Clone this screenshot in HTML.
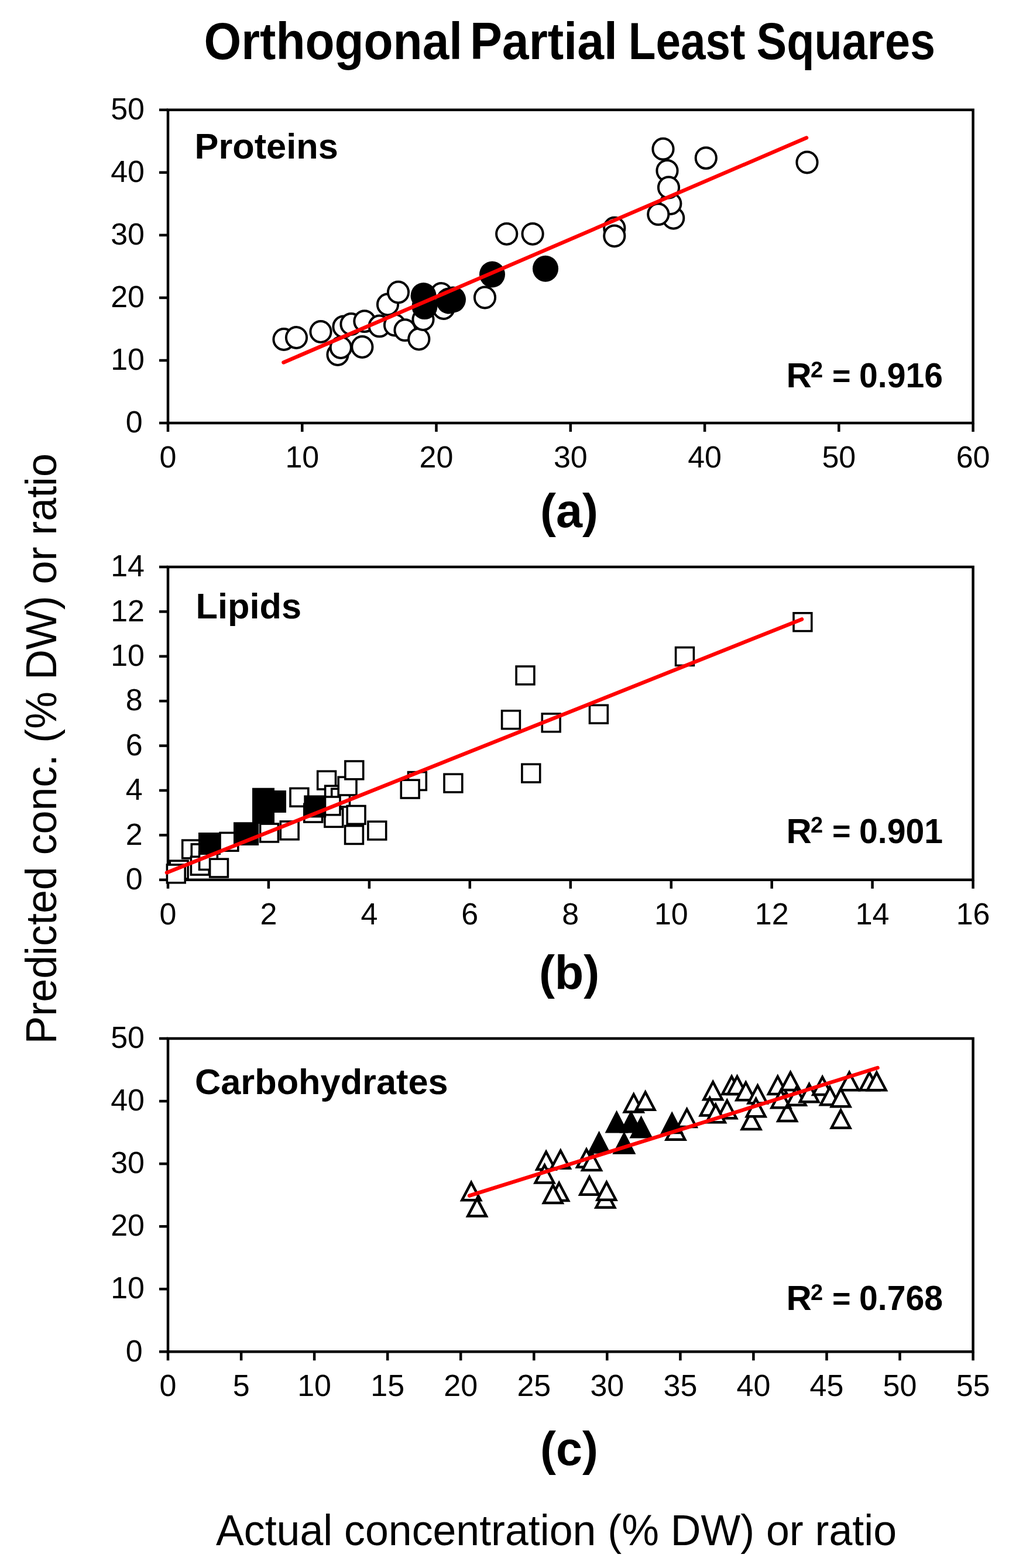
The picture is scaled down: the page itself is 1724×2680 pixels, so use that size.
<!DOCTYPE html><html><head><meta charset="utf-8"><title>Orthogonal Partial Least Squares</title>
<style>html,body{margin:0;padding:0;background:#fff;}svg{display:block;}text{font-family:"Liberation Sans",Arial,sans-serif;fill:#000;}</style></head><body>
<svg width="1724" height="2680" viewBox="0 0 1724 2680">
<rect width="1724" height="2680" fill="#fff"/>
<text y="101" font-size="89" font-weight="bold"><tspan x="348.5" textLength="441.5" lengthAdjust="spacingAndGlyphs">Orthogonal</tspan> <tspan x="802.9" textLength="252.0" lengthAdjust="spacingAndGlyphs">Partial</tspan> <tspan x="1073.7" textLength="199.7" lengthAdjust="spacingAndGlyphs">Least</tspan> <tspan x="1292.5" textLength="305.5" lengthAdjust="spacingAndGlyphs">Squares</tspan></text>
<rect x="287.0" y="187.8" width="1375.6" height="535.2" fill="none" stroke="#000" stroke-width="4.5"/>
<line x1="272.0" y1="723.0" x2="287.0" y2="723.0" stroke="#000" stroke-width="4.5"/>
<text x="243.6" y="739.2" font-size="52" text-anchor="end">0</text>
<line x1="272.0" y1="616.0" x2="287.0" y2="616.0" stroke="#000" stroke-width="4.5"/>
<text x="247.0" y="632.2" font-size="52" text-anchor="end">10</text>
<line x1="272.0" y1="508.9" x2="287.0" y2="508.9" stroke="#000" stroke-width="4.5"/>
<text x="247.0" y="525.1" font-size="52" text-anchor="end">20</text>
<line x1="272.0" y1="401.9" x2="287.0" y2="401.9" stroke="#000" stroke-width="4.5"/>
<text x="247.0" y="418.1" font-size="52" text-anchor="end">30</text>
<line x1="272.0" y1="294.8" x2="287.0" y2="294.8" stroke="#000" stroke-width="4.5"/>
<text x="247.0" y="311.0" font-size="52" text-anchor="end">40</text>
<line x1="272.0" y1="187.8" x2="287.0" y2="187.8" stroke="#000" stroke-width="4.5"/>
<text x="247.0" y="204.0" font-size="52" text-anchor="end">50</text>
<line x1="287.0" y1="723.0" x2="287.0" y2="738.0" stroke="#000" stroke-width="4.5"/>
<text x="287.0" y="798.8" font-size="52" text-anchor="middle">0</text>
<line x1="516.3" y1="723.0" x2="516.3" y2="738.0" stroke="#000" stroke-width="4.5"/>
<text x="516.3" y="798.8" font-size="52" text-anchor="middle">10</text>
<line x1="745.5" y1="723.0" x2="745.5" y2="738.0" stroke="#000" stroke-width="4.5"/>
<text x="745.5" y="798.8" font-size="52" text-anchor="middle">20</text>
<line x1="974.8" y1="723.0" x2="974.8" y2="738.0" stroke="#000" stroke-width="4.5"/>
<text x="974.8" y="798.8" font-size="52" text-anchor="middle">30</text>
<line x1="1204.1" y1="723.0" x2="1204.1" y2="738.0" stroke="#000" stroke-width="4.5"/>
<text x="1204.1" y="798.8" font-size="52" text-anchor="middle">40</text>
<line x1="1433.3" y1="723.0" x2="1433.3" y2="738.0" stroke="#000" stroke-width="4.5"/>
<text x="1433.3" y="798.8" font-size="52" text-anchor="middle">50</text>
<line x1="1662.6" y1="723.0" x2="1662.6" y2="738.0" stroke="#000" stroke-width="4.5"/>
<text x="1662.6" y="798.8" font-size="52" text-anchor="middle">60</text>
<rect x="287.0" y="969.0" width="1375.6" height="534.8" fill="none" stroke="#000" stroke-width="4.5"/>
<line x1="272.0" y1="1503.8" x2="287.0" y2="1503.8" stroke="#000" stroke-width="4.5"/>
<text x="243.6" y="1520.0" font-size="52" text-anchor="end">0</text>
<line x1="272.0" y1="1427.4" x2="287.0" y2="1427.4" stroke="#000" stroke-width="4.5"/>
<text x="243.6" y="1443.6" font-size="52" text-anchor="end">2</text>
<line x1="272.0" y1="1351.0" x2="287.0" y2="1351.0" stroke="#000" stroke-width="4.5"/>
<text x="243.6" y="1367.2" font-size="52" text-anchor="end">4</text>
<line x1="272.0" y1="1274.6" x2="287.0" y2="1274.6" stroke="#000" stroke-width="4.5"/>
<text x="243.6" y="1290.8" font-size="52" text-anchor="end">6</text>
<line x1="272.0" y1="1198.2" x2="287.0" y2="1198.2" stroke="#000" stroke-width="4.5"/>
<text x="243.6" y="1214.4" font-size="52" text-anchor="end">8</text>
<line x1="272.0" y1="1121.8" x2="287.0" y2="1121.8" stroke="#000" stroke-width="4.5"/>
<text x="247.0" y="1138.0" font-size="52" text-anchor="end">10</text>
<line x1="272.0" y1="1045.4" x2="287.0" y2="1045.4" stroke="#000" stroke-width="4.5"/>
<text x="247.0" y="1061.6" font-size="52" text-anchor="end">12</text>
<line x1="272.0" y1="969.0" x2="287.0" y2="969.0" stroke="#000" stroke-width="4.5"/>
<text x="247.0" y="985.2" font-size="52" text-anchor="end">14</text>
<line x1="287.0" y1="1503.8" x2="287.0" y2="1518.8" stroke="#000" stroke-width="4.5"/>
<text x="287.0" y="1579.6" font-size="52" text-anchor="middle">0</text>
<line x1="458.9" y1="1503.8" x2="458.9" y2="1518.8" stroke="#000" stroke-width="4.5"/>
<text x="458.9" y="1579.6" font-size="52" text-anchor="middle">2</text>
<line x1="630.9" y1="1503.8" x2="630.9" y2="1518.8" stroke="#000" stroke-width="4.5"/>
<text x="630.9" y="1579.6" font-size="52" text-anchor="middle">4</text>
<line x1="802.8" y1="1503.8" x2="802.8" y2="1518.8" stroke="#000" stroke-width="4.5"/>
<text x="802.8" y="1579.6" font-size="52" text-anchor="middle">6</text>
<line x1="974.8" y1="1503.8" x2="974.8" y2="1518.8" stroke="#000" stroke-width="4.5"/>
<text x="974.8" y="1579.6" font-size="52" text-anchor="middle">8</text>
<line x1="1146.8" y1="1503.8" x2="1146.8" y2="1518.8" stroke="#000" stroke-width="4.5"/>
<text x="1146.8" y="1579.6" font-size="52" text-anchor="middle">10</text>
<line x1="1318.7" y1="1503.8" x2="1318.7" y2="1518.8" stroke="#000" stroke-width="4.5"/>
<text x="1318.7" y="1579.6" font-size="52" text-anchor="middle">12</text>
<line x1="1490.6" y1="1503.8" x2="1490.6" y2="1518.8" stroke="#000" stroke-width="4.5"/>
<text x="1490.6" y="1579.6" font-size="52" text-anchor="middle">14</text>
<line x1="1662.6" y1="1503.8" x2="1662.6" y2="1518.8" stroke="#000" stroke-width="4.5"/>
<text x="1662.6" y="1579.6" font-size="52" text-anchor="middle">16</text>
<rect x="287.0" y="1775.0" width="1375.6" height="535.3" fill="none" stroke="#000" stroke-width="4.5"/>
<line x1="272.0" y1="2310.3" x2="287.0" y2="2310.3" stroke="#000" stroke-width="4.5"/>
<text x="243.6" y="2326.5" font-size="52" text-anchor="end">0</text>
<line x1="272.0" y1="2203.2" x2="287.0" y2="2203.2" stroke="#000" stroke-width="4.5"/>
<text x="247.0" y="2219.4" font-size="52" text-anchor="end">10</text>
<line x1="272.0" y1="2096.2" x2="287.0" y2="2096.2" stroke="#000" stroke-width="4.5"/>
<text x="247.0" y="2112.4" font-size="52" text-anchor="end">20</text>
<line x1="272.0" y1="1989.1" x2="287.0" y2="1989.1" stroke="#000" stroke-width="4.5"/>
<text x="247.0" y="2005.3" font-size="52" text-anchor="end">30</text>
<line x1="272.0" y1="1882.1" x2="287.0" y2="1882.1" stroke="#000" stroke-width="4.5"/>
<text x="247.0" y="1898.3" font-size="52" text-anchor="end">40</text>
<line x1="272.0" y1="1775.0" x2="287.0" y2="1775.0" stroke="#000" stroke-width="4.5"/>
<text x="247.0" y="1791.2" font-size="52" text-anchor="end">50</text>
<line x1="287.0" y1="2310.3" x2="287.0" y2="2325.3" stroke="#000" stroke-width="4.5"/>
<text x="287.0" y="2386.1" font-size="52" text-anchor="middle">0</text>
<line x1="412.1" y1="2310.3" x2="412.1" y2="2325.3" stroke="#000" stroke-width="4.5"/>
<text x="412.1" y="2386.1" font-size="52" text-anchor="middle">5</text>
<line x1="537.1" y1="2310.3" x2="537.1" y2="2325.3" stroke="#000" stroke-width="4.5"/>
<text x="537.1" y="2386.1" font-size="52" text-anchor="middle">10</text>
<line x1="662.2" y1="2310.3" x2="662.2" y2="2325.3" stroke="#000" stroke-width="4.5"/>
<text x="662.2" y="2386.1" font-size="52" text-anchor="middle">15</text>
<line x1="787.2" y1="2310.3" x2="787.2" y2="2325.3" stroke="#000" stroke-width="4.5"/>
<text x="787.2" y="2386.1" font-size="52" text-anchor="middle">20</text>
<line x1="912.3" y1="2310.3" x2="912.3" y2="2325.3" stroke="#000" stroke-width="4.5"/>
<text x="912.3" y="2386.1" font-size="52" text-anchor="middle">25</text>
<line x1="1037.3" y1="2310.3" x2="1037.3" y2="2325.3" stroke="#000" stroke-width="4.5"/>
<text x="1037.3" y="2386.1" font-size="52" text-anchor="middle">30</text>
<line x1="1162.4" y1="2310.3" x2="1162.4" y2="2325.3" stroke="#000" stroke-width="4.5"/>
<text x="1162.4" y="2386.1" font-size="52" text-anchor="middle">35</text>
<line x1="1287.4" y1="2310.3" x2="1287.4" y2="2325.3" stroke="#000" stroke-width="4.5"/>
<text x="1287.4" y="2386.1" font-size="52" text-anchor="middle">40</text>
<line x1="1412.5" y1="2310.3" x2="1412.5" y2="2325.3" stroke="#000" stroke-width="4.5"/>
<text x="1412.5" y="2386.1" font-size="52" text-anchor="middle">45</text>
<line x1="1537.5" y1="2310.3" x2="1537.5" y2="2325.3" stroke="#000" stroke-width="4.5"/>
<text x="1537.5" y="2386.1" font-size="52" text-anchor="middle">50</text>
<line x1="1662.6" y1="2310.3" x2="1662.6" y2="2325.3" stroke="#000" stroke-width="4.5"/>
<text x="1662.6" y="2386.1" font-size="52" text-anchor="middle">55</text>
<text x="332.5" y="271" font-size="61.3" font-weight="bold">Proteins</text>
<text x="334.5" y="1057" font-size="61.3" font-weight="bold">Lipids</text>
<text x="333" y="1870" font-size="61.3" font-weight="bold">Carbohydrates</text>
<text y="662" font-size="60" font-weight="bold"><tspan x="1343.5">R</tspan><tspan x="1385" y="644.8" font-size="38">2</tspan> <tspan x="1422" y="660.5" font-size="54">=</tspan> <tspan x="1468" y="662" textLength="143" lengthAdjust="spacingAndGlyphs">0.916</tspan></text>
<text y="1440.5" font-size="60" font-weight="bold"><tspan x="1343.5">R</tspan><tspan x="1385" y="1423.3" font-size="38">2</tspan> <tspan x="1422" y="1439.0" font-size="54">=</tspan> <tspan x="1468" y="1440.5" textLength="143" lengthAdjust="spacingAndGlyphs">0.901</tspan></text>
<text y="2239" font-size="60" font-weight="bold"><tspan x="1343.5">R</tspan><tspan x="1385" y="2221.8" font-size="38">2</tspan> <tspan x="1422" y="2237.5" font-size="54">=</tspan> <tspan x="1468" y="2239" textLength="143" lengthAdjust="spacingAndGlyphs">0.768</tspan></text>
<text x="972.6" y="900.6" font-size="81" font-weight="bold" text-anchor="middle">(a)</text>
<text x="972.6" y="1690" font-size="81" font-weight="bold" text-anchor="middle">(b)</text>
<text x="972.6" y="2504" font-size="81" font-weight="bold" text-anchor="middle">(c)</text>
<text x="369" y="2641" font-size="74" textLength="1163" lengthAdjust="spacingAndGlyphs">Actual concentration (% DW) or ratio</text>
<text transform="translate(95.8,1784.6) rotate(-90)" x="0" y="0" font-size="75" textLength="1009.6" lengthAdjust="spacingAndGlyphs">Predicted conc. (% DW) or ratio</text>
<ellipse cx="485" cy="580" rx="17.6" ry="17.9" fill="#fff" stroke="#000" stroke-width="4.0"/>
<ellipse cx="506.5" cy="577" rx="17.6" ry="17.9" fill="#fff" stroke="#000" stroke-width="4.0"/>
<ellipse cx="548" cy="567" rx="17.6" ry="17.9" fill="#fff" stroke="#000" stroke-width="4.0"/>
<ellipse cx="577" cy="606" rx="17.6" ry="17.9" fill="#fff" stroke="#000" stroke-width="4.0"/>
<ellipse cx="582.3" cy="594" rx="17.6" ry="17.9" fill="#fff" stroke="#000" stroke-width="4.0"/>
<ellipse cx="587" cy="558.4" rx="17.6" ry="17.9" fill="#fff" stroke="#000" stroke-width="4.0"/>
<ellipse cx="600" cy="554" rx="17.6" ry="17.9" fill="#fff" stroke="#000" stroke-width="4.0"/>
<ellipse cx="622.9" cy="549.1" rx="17.6" ry="17.9" fill="#fff" stroke="#000" stroke-width="4.0"/>
<ellipse cx="618.9" cy="593" rx="17.6" ry="17.9" fill="#fff" stroke="#000" stroke-width="4.0"/>
<ellipse cx="648.3" cy="557.4" rx="17.6" ry="17.9" fill="#fff" stroke="#000" stroke-width="4.0"/>
<ellipse cx="662.5" cy="520.5" rx="17.6" ry="17.9" fill="#fff" stroke="#000" stroke-width="4.0"/>
<ellipse cx="680.5" cy="499.5" rx="17.6" ry="17.9" fill="#fff" stroke="#000" stroke-width="4.0"/>
<ellipse cx="674.5" cy="555.5" rx="17.6" ry="17.9" fill="#fff" stroke="#000" stroke-width="4.0"/>
<ellipse cx="692" cy="564.2" rx="17.6" ry="17.9" fill="#fff" stroke="#000" stroke-width="4.0"/>
<ellipse cx="715.8" cy="579.5" rx="17.6" ry="17.9" fill="#fff" stroke="#000" stroke-width="4.0"/>
<ellipse cx="723" cy="546" rx="17.6" ry="17.9" fill="#fff" stroke="#000" stroke-width="4.0"/>
<ellipse cx="754" cy="502" rx="17.6" ry="17.9" fill="#fff" stroke="#000" stroke-width="4.0"/>
<ellipse cx="758" cy="527" rx="17.6" ry="17.9" fill="#fff" stroke="#000" stroke-width="4.0"/>
<ellipse cx="828.5" cy="508.5" rx="17.6" ry="17.9" fill="#fff" stroke="#000" stroke-width="4.0"/>
<ellipse cx="865.7" cy="399.8" rx="17.6" ry="17.9" fill="#fff" stroke="#000" stroke-width="4.0"/>
<ellipse cx="910.1" cy="399.8" rx="17.6" ry="17.9" fill="#fff" stroke="#000" stroke-width="4.0"/>
<ellipse cx="1049.8" cy="389.7" rx="17.6" ry="17.9" fill="#fff" stroke="#000" stroke-width="4.0"/>
<ellipse cx="1049.8" cy="403.3" rx="17.6" ry="17.9" fill="#fff" stroke="#000" stroke-width="4.0"/>
<ellipse cx="1133" cy="254.7" rx="17.6" ry="17.9" fill="#fff" stroke="#000" stroke-width="4.0"/>
<ellipse cx="1140" cy="291.8" rx="17.6" ry="17.9" fill="#fff" stroke="#000" stroke-width="4.0"/>
<ellipse cx="1150.7" cy="372.8" rx="17.6" ry="17.9" fill="#fff" stroke="#000" stroke-width="4.0"/>
<ellipse cx="1145.8" cy="348" rx="17.6" ry="17.9" fill="#fff" stroke="#000" stroke-width="4.0"/>
<ellipse cx="1142.5" cy="320.5" rx="17.6" ry="17.9" fill="#fff" stroke="#000" stroke-width="4.0"/>
<ellipse cx="1124.8" cy="366.2" rx="17.6" ry="17.9" fill="#fff" stroke="#000" stroke-width="4.0"/>
<ellipse cx="1206.3" cy="270.1" rx="17.6" ry="17.9" fill="#fff" stroke="#000" stroke-width="4.0"/>
<ellipse cx="1379" cy="277.5" rx="17.6" ry="17.9" fill="#fff" stroke="#000" stroke-width="4.0"/>
<ellipse cx="723.6" cy="505.5" rx="22" ry="22.5" fill="#000"/>
<ellipse cx="725.5" cy="523.6" rx="22" ry="22.5" fill="#000"/>
<ellipse cx="767" cy="514" rx="22" ry="22.5" fill="#000"/>
<ellipse cx="774" cy="512" rx="22" ry="22.5" fill="#000"/>
<ellipse cx="841" cy="469" rx="22" ry="22.5" fill="#000"/>
<ellipse cx="932" cy="459.2" rx="22" ry="22.5" fill="#000"/>
<line x1="484.5" y1="619.5" x2="1378" y2="235.5" stroke="#f00" stroke-width="6.5" stroke-linecap="round"/>
<rect x="290.3" y="1471.2" width="30.8" height="30.8" fill="#fff" stroke="#000" stroke-width="3.6"/>
<rect x="285.4" y="1478.0" width="30.8" height="30.8" fill="#fff" stroke="#000" stroke-width="3.6"/>
<rect x="311.7" y="1436.1" width="30.8" height="30.8" fill="#fff" stroke="#000" stroke-width="3.6"/>
<rect x="327.3" y="1442.9" width="30.8" height="30.8" fill="#fff" stroke="#000" stroke-width="3.6"/>
<rect x="326.4" y="1464.3" width="30.8" height="30.8" fill="#fff" stroke="#000" stroke-width="3.6"/>
<rect x="340.6" y="1455.6" width="30.8" height="30.8" fill="#fff" stroke="#000" stroke-width="3.6"/>
<rect x="358.6" y="1468.2" width="30.8" height="30.8" fill="#fff" stroke="#000" stroke-width="3.6"/>
<rect x="376.0" y="1423.4" width="30.8" height="30.8" fill="#fff" stroke="#000" stroke-width="3.6"/>
<rect x="444.6" y="1408.1" width="30.8" height="30.8" fill="#fff" stroke="#000" stroke-width="3.6"/>
<rect x="479.3" y="1404.0" width="30.8" height="30.8" fill="#fff" stroke="#000" stroke-width="3.6"/>
<rect x="496.0" y="1347.4" width="30.8" height="30.8" fill="#fff" stroke="#000" stroke-width="3.6"/>
<rect x="519.8" y="1374.3" width="30.8" height="30.8" fill="#fff" stroke="#000" stroke-width="3.6"/>
<rect x="542.7" y="1318.2" width="30.8" height="30.8" fill="#fff" stroke="#000" stroke-width="3.6"/>
<rect x="554.9" y="1382.5" width="30.8" height="30.8" fill="#fff" stroke="#000" stroke-width="3.6"/>
<rect x="555.6" y="1343.2" width="30.8" height="30.8" fill="#fff" stroke="#000" stroke-width="3.6"/>
<rect x="566.7" y="1348.2" width="30.8" height="30.8" fill="#fff" stroke="#000" stroke-width="3.6"/>
<rect x="578.2" y="1328.2" width="30.8" height="30.8" fill="#fff" stroke="#000" stroke-width="3.6"/>
<rect x="589.9" y="1301.0" width="30.8" height="30.8" fill="#fff" stroke="#000" stroke-width="3.6"/>
<rect x="593.2" y="1377.5" width="30.8" height="30.8" fill="#fff" stroke="#000" stroke-width="3.6"/>
<rect x="589.6" y="1411.6" width="30.8" height="30.8" fill="#fff" stroke="#000" stroke-width="3.6"/>
<rect x="628.9" y="1404.2" width="30.8" height="30.8" fill="#fff" stroke="#000" stroke-width="3.6"/>
<rect x="697.5" y="1319.6" width="30.8" height="30.8" fill="#fff" stroke="#000" stroke-width="3.6"/>
<rect x="685.3" y="1333.2" width="30.8" height="30.8" fill="#fff" stroke="#000" stroke-width="3.6"/>
<rect x="759.0" y="1323.2" width="30.8" height="30.8" fill="#fff" stroke="#000" stroke-width="3.6"/>
<rect x="857.6" y="1214.8" width="30.8" height="30.8" fill="#fff" stroke="#000" stroke-width="3.6"/>
<rect x="882.1" y="1139.0" width="30.8" height="30.8" fill="#fff" stroke="#000" stroke-width="3.6"/>
<rect x="891.9" y="1306.2" width="30.8" height="30.8" fill="#fff" stroke="#000" stroke-width="3.6"/>
<rect x="926.3" y="1219.9" width="30.8" height="30.8" fill="#fff" stroke="#000" stroke-width="3.6"/>
<rect x="1007.5" y="1205.3" width="30.8" height="30.8" fill="#fff" stroke="#000" stroke-width="3.6"/>
<rect x="1154.6" y="1106.6" width="30.8" height="30.8" fill="#fff" stroke="#000" stroke-width="3.6"/>
<rect x="1356.0" y="1047.8" width="30.8" height="30.8" fill="#fff" stroke="#000" stroke-width="3.6"/>
<rect x="550.2" y="1362.0" width="30.8" height="30.8" fill="#fff" stroke="#000" stroke-width="3.6"/>
<rect x="339.0" y="1423.0" width="38" height="38" fill="#000"/>
<rect x="399.0" y="1405.3" width="38" height="38" fill="#000"/>
<rect x="404.0" y="1407.0" width="38" height="38" fill="#000"/>
<rect x="431.0" y="1346.7" width="38" height="38" fill="#000"/>
<rect x="431.0" y="1370.0" width="38" height="38" fill="#000"/>
<rect x="451.0" y="1351.0" width="38" height="38" fill="#000"/>
<rect x="519.3" y="1359.4" width="38" height="38" fill="#000"/>
<line x1="285" y1="1491.5" x2="1370" y2="1058.4" stroke="#f00" stroke-width="6.5" stroke-linecap="round"/>
<path d="M805.2,2021.2 L821.0,2051.2 L789.4,2051.2 Z" fill="#fff" stroke="#000" stroke-width="4.5" stroke-linejoin="miter" stroke-miterlimit="10"/>
<path d="M815.1,2048.6 L830.9,2078.6 L799.3,2078.6 Z" fill="#fff" stroke="#000" stroke-width="4.5" stroke-linejoin="miter" stroke-miterlimit="10"/>
<path d="M933.1,1968.8 L948.9,1998.8 L917.3,1998.8 Z" fill="#fff" stroke="#000" stroke-width="4.5" stroke-linejoin="miter" stroke-miterlimit="10"/>
<path d="M957.8,1966.8 L973.6,1996.8 L942.0,1996.8 Z" fill="#fff" stroke="#000" stroke-width="4.5" stroke-linejoin="miter" stroke-miterlimit="10"/>
<path d="M930.5,1991.5 L946.3,2021.5 L914.7,2021.5 Z" fill="#fff" stroke="#000" stroke-width="4.5" stroke-linejoin="miter" stroke-miterlimit="10"/>
<path d="M955.2,2022.1 L971.0,2052.1 L939.4,2052.1 Z" fill="#fff" stroke="#000" stroke-width="4.5" stroke-linejoin="miter" stroke-miterlimit="10"/>
<path d="M944.8,2025.9 L960.6,2055.9 L929.0,2055.9 Z" fill="#fff" stroke="#000" stroke-width="4.5" stroke-linejoin="miter" stroke-miterlimit="10"/>
<path d="M1002.0,1964.8 L1017.8,1994.8 L986.2,1994.8 Z" fill="#fff" stroke="#000" stroke-width="4.5" stroke-linejoin="miter" stroke-miterlimit="10"/>
<path d="M1011.0,1970.0 L1026.8,2000.0 L995.2,2000.0 Z" fill="#fff" stroke="#000" stroke-width="4.5" stroke-linejoin="miter" stroke-miterlimit="10"/>
<path d="M1007.1,2011.7 L1022.9,2041.7 L991.3,2041.7 Z" fill="#fff" stroke="#000" stroke-width="4.5" stroke-linejoin="miter" stroke-miterlimit="10"/>
<path d="M1034.4,2033.8 L1050.2,2063.8 L1018.6,2063.8 Z" fill="#fff" stroke="#000" stroke-width="4.5" stroke-linejoin="miter" stroke-miterlimit="10"/>
<path d="M1036.4,2020.8 L1052.2,2050.8 L1020.6,2050.8 Z" fill="#fff" stroke="#000" stroke-width="4.5" stroke-linejoin="miter" stroke-miterlimit="10"/>
<path d="M1082.7,1870.5 L1098.5,1900.5 L1066.9,1900.5 Z" fill="#fff" stroke="#000" stroke-width="4.5" stroke-linejoin="miter" stroke-miterlimit="10"/>
<path d="M1102.7,1866.8 L1118.5,1896.8 L1086.9,1896.8 Z" fill="#fff" stroke="#000" stroke-width="4.5" stroke-linejoin="miter" stroke-miterlimit="10"/>
<path d="M1173.6,1896.0 L1189.4,1926.0 L1157.8,1926.0 Z" fill="#fff" stroke="#000" stroke-width="4.5" stroke-linejoin="miter" stroke-miterlimit="10"/>
<path d="M1154.5,1917.8 L1170.3,1947.8 L1138.7,1947.8 Z" fill="#fff" stroke="#000" stroke-width="4.5" stroke-linejoin="miter" stroke-miterlimit="10"/>
<path d="M1218.2,1849.3 L1234.0,1879.3 L1202.4,1879.3 Z" fill="#fff" stroke="#000" stroke-width="4.5" stroke-linejoin="miter" stroke-miterlimit="10"/>
<path d="M1250.1,1840.0 L1265.9,1870.0 L1234.3,1870.0 Z" fill="#fff" stroke="#000" stroke-width="4.5" stroke-linejoin="miter" stroke-miterlimit="10"/>
<path d="M1259.5,1840.0 L1275.3,1870.0 L1243.7,1870.0 Z" fill="#fff" stroke="#000" stroke-width="4.5" stroke-linejoin="miter" stroke-miterlimit="10"/>
<path d="M1274.3,1850.3 L1290.1,1880.3 L1258.5,1880.3 Z" fill="#fff" stroke="#000" stroke-width="4.5" stroke-linejoin="miter" stroke-miterlimit="10"/>
<path d="M1294.5,1855.5 L1310.3,1885.5 L1278.7,1885.5 Z" fill="#fff" stroke="#000" stroke-width="4.5" stroke-linejoin="miter" stroke-miterlimit="10"/>
<path d="M1212.7,1876.5 L1228.5,1906.5 L1196.9,1906.5 Z" fill="#fff" stroke="#000" stroke-width="4.5" stroke-linejoin="miter" stroke-miterlimit="10"/>
<path d="M1242.3,1881.2 L1258.1,1911.2 L1226.5,1911.2 Z" fill="#fff" stroke="#000" stroke-width="4.5" stroke-linejoin="miter" stroke-miterlimit="10"/>
<path d="M1222.9,1888.2 L1238.7,1918.2 L1207.1,1918.2 Z" fill="#fff" stroke="#000" stroke-width="4.5" stroke-linejoin="miter" stroke-miterlimit="10"/>
<path d="M1283.6,1900.0 L1299.4,1930.0 L1267.8,1930.0 Z" fill="#fff" stroke="#000" stroke-width="4.5" stroke-linejoin="miter" stroke-miterlimit="10"/>
<path d="M1291.7,1878.2 L1307.5,1908.2 L1275.9,1908.2 Z" fill="#fff" stroke="#000" stroke-width="4.5" stroke-linejoin="miter" stroke-miterlimit="10"/>
<path d="M1328.8,1840.0 L1344.6,1870.0 L1313.0,1870.0 Z" fill="#fff" stroke="#000" stroke-width="4.5" stroke-linejoin="miter" stroke-miterlimit="10"/>
<path d="M1350.6,1833.0 L1366.4,1863.0 L1334.8,1863.0 Z" fill="#fff" stroke="#000" stroke-width="4.5" stroke-linejoin="miter" stroke-miterlimit="10"/>
<path d="M1345.2,1886.0 L1361.0,1916.0 L1329.4,1916.0 Z" fill="#fff" stroke="#000" stroke-width="4.5" stroke-linejoin="miter" stroke-miterlimit="10"/>
<path d="M1334.3,1863.3 L1350.1,1893.3 L1318.5,1893.3 Z" fill="#fff" stroke="#000" stroke-width="4.5" stroke-linejoin="miter" stroke-miterlimit="10"/>
<path d="M1360.8,1858.7 L1376.6,1888.7 L1345.0,1888.7 Z" fill="#fff" stroke="#000" stroke-width="4.5" stroke-linejoin="miter" stroke-miterlimit="10"/>
<path d="M1382.6,1853.2 L1398.4,1883.2 L1366.8,1883.2 Z" fill="#fff" stroke="#000" stroke-width="4.5" stroke-linejoin="miter" stroke-miterlimit="10"/>
<path d="M1405.2,1841.0 L1421.0,1871.0 L1389.4,1871.0 Z" fill="#fff" stroke="#000" stroke-width="4.5" stroke-linejoin="miter" stroke-miterlimit="10"/>
<path d="M1418.0,1858.2 L1433.8,1888.2 L1402.2,1888.2 Z" fill="#fff" stroke="#000" stroke-width="4.5" stroke-linejoin="miter" stroke-miterlimit="10"/>
<path d="M1436.6,1861.2 L1452.4,1891.2 L1420.8,1891.2 Z" fill="#fff" stroke="#000" stroke-width="4.5" stroke-linejoin="miter" stroke-miterlimit="10"/>
<path d="M1436.6,1897.7 L1452.4,1927.7 L1420.8,1927.7 Z" fill="#fff" stroke="#000" stroke-width="4.5" stroke-linejoin="miter" stroke-miterlimit="10"/>
<path d="M1451.2,1833.2 L1467.0,1863.2 L1435.4,1863.2 Z" fill="#fff" stroke="#000" stroke-width="4.5" stroke-linejoin="miter" stroke-miterlimit="10"/>
<path d="M1485.5,1833.2 L1501.3,1863.2 L1469.7,1863.2 Z" fill="#fff" stroke="#000" stroke-width="4.5" stroke-linejoin="miter" stroke-miterlimit="10"/>
<path d="M1497.9,1833.2 L1513.7,1863.2 L1482.1,1863.2 Z" fill="#fff" stroke="#000" stroke-width="4.5" stroke-linejoin="miter" stroke-miterlimit="10"/>
<path d="M1023.6,1932.8 L1043.6,1971.8 L1003.6,1971.8 Z" fill="#000"/>
<path d="M1053.6,1897.4 L1073.6,1936.4 L1033.6,1936.4 Z" fill="#000"/>
<path d="M1078.2,1897.4 L1098.2,1936.4 L1058.2,1936.4 Z" fill="#000"/>
<path d="M1095.5,1906.5 L1115.5,1945.5 L1075.5,1945.5 Z" fill="#000"/>
<path d="M1066.4,1933.7 L1086.4,1972.7 L1046.4,1972.7 Z" fill="#000"/>
<path d="M1148.2,1899.2 L1168.2,1938.2 L1128.2,1938.2 Z" fill="#000"/>
<line x1="802.1" y1="2043.6" x2="1499.5" y2="1825" stroke="#f00" stroke-width="6.5" stroke-linecap="round"/>
</svg></body></html>
